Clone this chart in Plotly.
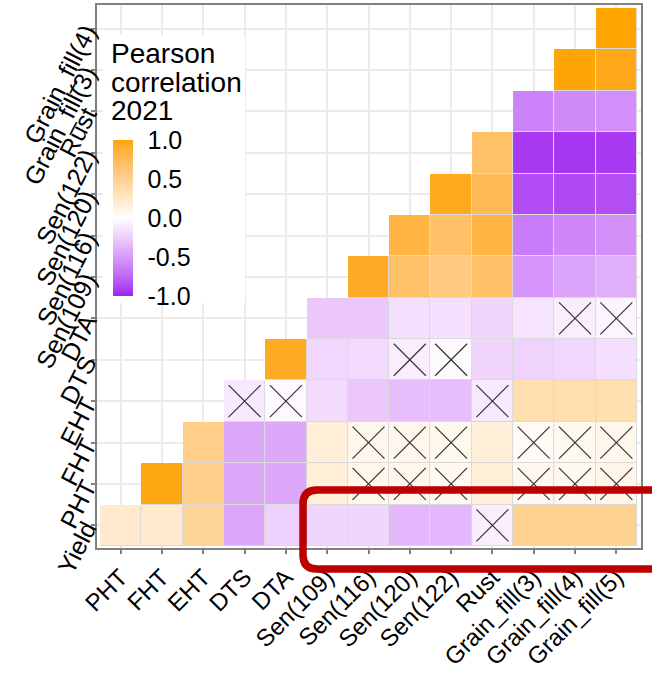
import numpy as np
import plotly.graph_objects as go

# Trait names: columns (x) and rows (y, bottom to top)
x_traits = ["PHT", "FHT", "EHT", "DTS", "DTA", "Sen(109)", "Sen(116)", "Sen(120)",
            "Sen(122)", "Rust", "Grain_fill(3)", "Grain_fill(4)", "Grain_fill(5)"]
y_traits = ["Yield", "PHT", "FHT", "EHT", "DTS", "DTA", "Sen(109)", "Sen(116)",
            "Sen(120)", "Sen(122)", "Rust", "Grain_fill(3)", "Grain_fill(4)"]

# Pearson correlations (2021); each row lists the columns from its diagonal onwards
r_yield = [0.22, 0.22, 0.47, -0.45, -0.23, -0.21, -0.21, -0.36, -0.36, -0.09, 0.50, 0.50, 0.50]
r_pht = [0.97, 0.54, -0.44, -0.44, 0.17, 0.09, 0.09, 0.06, 0.17, 0.07, 0.07, 0.10]
r_fht = [0.54, -0.44, -0.44, 0.17, 0.09, 0.09, 0.08, 0.17, 0.05, 0.07, 0.09]
r_eht = [-0.11, -0.03, -0.18, -0.28, -0.33, -0.33, -0.11, 0.36, 0.36, 0.36]
r_dts = [0.94, -0.20, -0.19, -0.09, -0.02, -0.21, -0.22, -0.20, -0.16]
r_dta = [-0.28, -0.28, -0.16, -0.16, -0.21, -0.14, -0.09, -0.05]
r_sen109 = [0.93, 0.68, 0.58, 0.69, -0.53, -0.46, -0.40]
r_sen116 = [0.83, 0.69, 0.83, -0.65, -0.60, -0.55]
r_sen120 = [0.95, 0.76, -0.86, -0.87, -0.85]
r_sen122 = [0.68, -0.93, -0.94, -0.93]
r_rust = [-0.62, -0.58, -0.56]
r_gf3 = [0.99, 0.96]
r_gf4 = [1.00]

# Pairs that are not significant (crossed out)
not_significant = {
    "Yield": ["Rust"],
    "PHT": ["Sen(116)", "Sen(120)", "Sen(122)", "Grain_fill(3)", "Grain_fill(4)", "Grain_fill(5)"],
    "FHT": ["Sen(116)", "Sen(120)", "Sen(122)", "Grain_fill(3)", "Grain_fill(4)", "Grain_fill(5)"],
    "EHT": ["DTS", "DTA", "Rust"],
    "DTS": ["Sen(120)", "Sen(122)"],
    "DTA": ["Grain_fill(4)", "Grain_fill(5)"],
}

# Colour-bar ticks and legend title lines
bar_ticks = [-1.0, -0.5, 0.0, 0.5, 1.0]
bar_labels = ["-1.0", "-0.5", "0.0", "0.5", "1.0"]
legend_lines = ["Pearson", "correlation", "2021"]

rows = [r_yield, r_pht, r_fht, r_eht, r_dts, r_dta, r_sen109, r_sen116,
        r_sen120, r_sen122, r_rust, r_gf3, r_gf4]
n = len(x_traits)
z = np.full((len(y_traits), n), np.nan)
for i, vals in enumerate(rows):
    z[i, n - len(vals):] = vals
filled = np.where(np.isnan(z), np.nan, 0.0)

# Diverging purple-white-orange scale interpolated in CIELAB
def _lin(c):
    c = c / 255.0
    return np.where(c <= 0.04045, c / 12.92, ((c + 0.055) / 1.055) ** 2.4)

def _gam(c):
    c = np.clip(c, 0, 1)
    return np.where(c <= 0.0031308, 12.92 * c, 1.055 * c ** (1 / 2.4) - 0.055) * 255

M = np.array([[0.4124, 0.3576, 0.1805], [0.2126, 0.7152, 0.0722], [0.0193, 0.1192, 0.9505]])
WP = np.array([0.95047, 1.0, 1.08883])

def to_lab(rgb):
    xyz = M @ _lin(np.array(rgb, float)) / WP
    f = np.where(xyz > 216 / 24389, np.cbrt(xyz), (24389 / 27 * xyz + 16) / 116)
    return np.array([116 * f[1] - 16, 500 * (f[0] - f[1]), 200 * (f[1] - f[2])])

def from_lab(lab):
    fy = (lab[0] + 16) / 116
    fx = fy + lab[1] / 500
    fz = fy - lab[2] / 200
    f = np.array([fx, fy, fz])
    xyz = np.where(f ** 3 > 216 / 24389, f ** 3, (116 * f - 16) / (24389 / 27)) * WP
    rgb = _gam(np.linalg.solve(M, xyz))
    return "rgb({:.0f},{:.0f},{:.0f})".format(*rgb)

low, mid, high = to_lab((160, 32, 240)), to_lab((255, 255, 255)), to_lab((255, 165, 0))
colorscale = []
for t in np.linspace(0, 1, 41):
    v = 2 * t - 1
    lab = mid + (low - mid) * (-v) if v < 0 else mid + (high - mid) * v
    colorscale.append([float(t), from_lab(lab)])

FONT = "Liberation Sans, Arial, sans-serif"

# figure geometry (pixels)
PL, PR, PT, PB = 97, 641, 5, 548
BAR_X, BAR_TOP, BAR_LEN, BAR_W = 113, 140, 156, 20

def px(xp, yp):
    return (xp - PL) / (PR - PL), (PB - yp) / (PB - PT)

fig = go.Figure()

# thin grey outline under the tiles
fig.add_trace(go.Heatmap(
    x=x_traits, y=y_traits, z=filled, zmin=-1, zmax=1,
    colorscale=[[0, "#DADADA"], [1, "#DADADA"]], showscale=False, hoverinfo="skip",
))

fig.add_trace(go.Heatmap(
    x=x_traits, y=y_traits, z=z, zmin=-1, zmax=1, colorscale=colorscale,
    xgap=1, ygap=1,
    colorbar=dict(
        tickvals=bar_ticks, ticktext=bar_labels,
        tickfont=dict(size=25, color="black", family=FONT),
        ticks="outside", ticklen=10, tickcolor="white", tickwidth=1,
        x=px(BAR_X, 0)[0], xanchor="left", xpad=0,
        y=px(0, BAR_TOP + BAR_LEN / 2)[1], yanchor="middle", ypad=0,
        lenmode="pixels", len=BAR_LEN, thicknessmode="pixels", thickness=BAR_W,
        outlinewidth=0,
    ),
))

# crosses on non-significant pairs
cx, cy = [], []
for row_name, cols in not_significant.items():
    for c in cols:
        cx.append(c)
        cy.append(row_name)
fig.add_trace(go.Scatter(
    x=cx, y=cy, mode="markers", hoverinfo="skip", showlegend=False,
    marker=dict(symbol="x-thin", size=32, color="#333333",
                line=dict(width=1.2, color="#333333")),
))

def path_from(points):
    cmds = []
    for cmd, pts in points:
        coords = " ".join("{:.4f},{:.4f}".format(*px(a, b)) for a, b in pts)
        cmds.append(cmd + " " + coords)
    return " ".join(cmds)

# white legend panel
shapes = [
    dict(type="rect", xref="paper", yref="paper", layer="above",
         x0=px(103, 0)[0], x1=px(245, 0)[0], y0=px(0, 303)[1], y1=px(0, 35)[1],
         fillcolor="white", line=dict(width=0)),
]
# small white ticks on both edges of the colour bar
for v in bar_ticks[1:-1]:
    yy = BAR_TOP + (1 - v) / 2 * BAR_LEN
    for xa, xb in [(BAR_X, BAR_X + 4), (BAR_X + BAR_W - 4, BAR_X + BAR_W)]:
        shapes.append(dict(type="line", xref="paper", yref="paper", layer="above",
                           x0=px(xa, 0)[0], x1=px(xb, 0)[0],
                           y0=px(0, yy)[1], y1=px(0, yy)[1],
                           line=dict(color="white", width=1)))
# highlight frame around the Yield row
shapes.append(dict(
    type="path", xref="paper", yref="paper", layer="above",
    path=path_from([("M", [(720, 490)]), ("L", [(317, 490)]),
                    ("Q", [(303, 490), (303, 504)]), ("L", [(303, 555)]),
                    ("Q", [(303, 569), (317, 569)]), ("L", [(720, 569)])]),
    line=dict(color="#BC0000", width=7.5)))

annotations = []
for k, line in enumerate(legend_lines):
    annotations.append(dict(
        text=line, xref="paper", yref="paper",
        x=px(109, 0)[0], y=px(0, 54 + 28.5 * k)[1], xanchor="left", yanchor="middle",
        align="left", showarrow=False,
        font=dict(size=28, color="black", family=FONT),
    ))

axis_common = dict(
    type="category", showgrid=True, gridcolor="#EBEBEB", gridwidth=1.5,
    ticks="outside", ticklen=4, tickcolor="#808080", tickwidth=1.5,
    showline=True, linecolor="#808080", linewidth=1.5, mirror=True,
    zeroline=False, automargin=False,
)

fig.update_layout(
    width=652, height=673,
    margin=dict(l=PL, r=652 - PR, t=PT, b=673 - PB),
    paper_bgcolor="white", plot_bgcolor="white",
    showlegend=False,
    shapes=shapes,
    annotations=annotations,
    xaxis=dict(axis_common, categoryorder="array", categoryarray=x_traits,
               range=[-0.573, 12.597], tickangle=-45,
               tickfont=dict(size=24, color="black", family=FONT)),
    yaxis=dict(axis_common, categoryorder="array", categoryarray=y_traits,
               range=[-0.548, 12.572], tickangle=-63,
               tickfont=dict(size=25, color="black", family=FONT)),
)

fig.write_html("out.html")
